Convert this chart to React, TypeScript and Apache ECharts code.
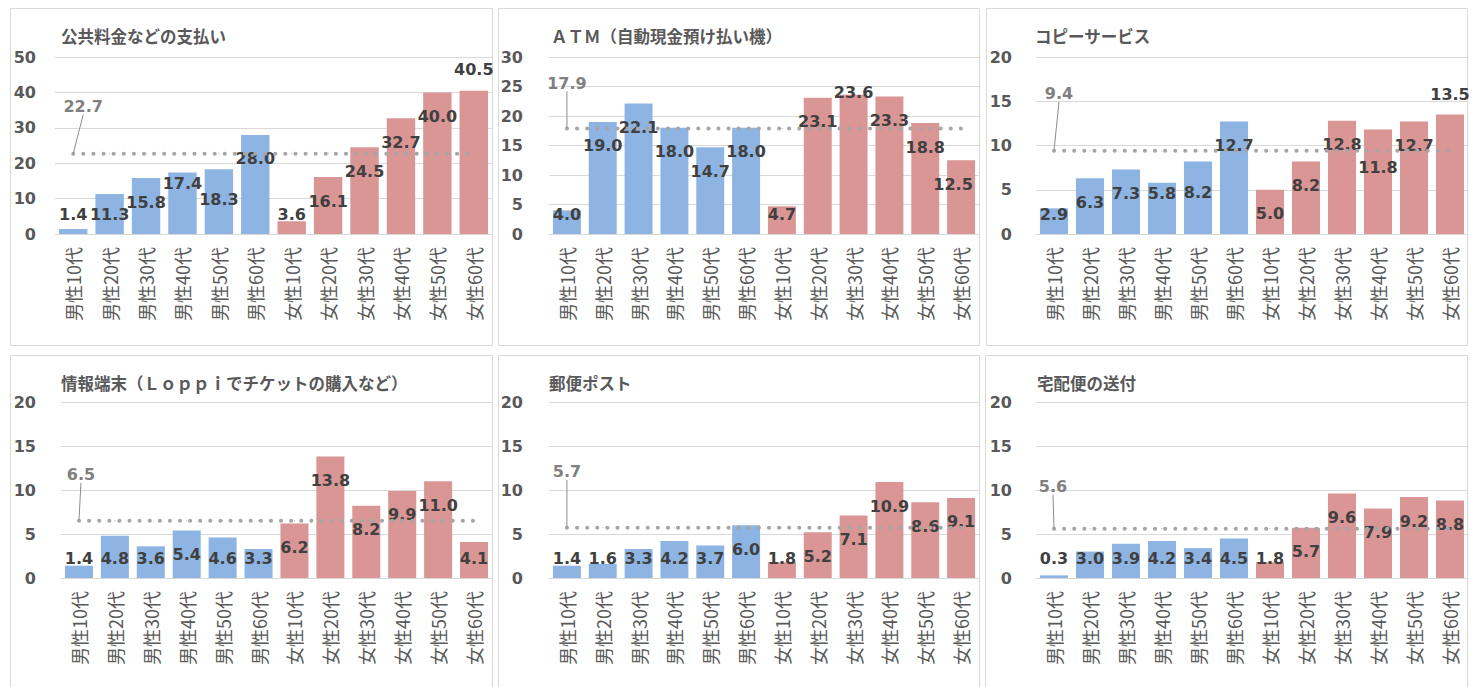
import React, { useEffect, useRef } from "react";
import * as echarts from "echarts";

// ---------- data ----------
const categories = [
  "男性10代", "男性20代", "男性30代", "男性40代", "男性50代", "男性60代",
  "女性10代", "女性20代", "女性30代", "女性40代", "女性50代", "女性60代",
];

const chartTitles = [
  "公共料金などの支払い",
  "ＡＴＭ（自動現金預け払い機）",
  "コピーサービス",
  "情報端末（Ｌｏｐｐｉでチケットの購入など）",
  "郵便ポスト",
  "宅配便の送付",
];

const utilityPayment = [1.4, 11.3, 15.8, 17.4, 18.3, 28.0, 3.6, 16.1, 24.5, 32.7, 40.0, 40.5];
const atm = [4.0, 19.0, 22.1, 18.0, 14.7, 18.0, 4.7, 23.1, 23.6, 23.3, 18.8, 12.5];
const copyService = [2.9, 6.3, 7.3, 5.8, 8.2, 12.7, 5.0, 8.2, 12.8, 11.8, 12.7, 13.5];
const infoTerminal = [1.4, 4.8, 3.6, 5.4, 4.6, 3.3, 6.2, 13.8, 8.2, 9.9, 11.0, 4.1];
const postBox = [1.4, 1.6, 3.3, 4.2, 3.7, 6.0, 1.8, 5.2, 7.1, 10.9, 8.6, 9.1];
const parcelDelivery = [0.3, 3.0, 3.9, 4.2, 3.4, 4.5, 1.8, 5.7, 9.6, 7.9, 9.2, 8.8];

const seriesValues = [utilityPayment, atm, copyService, infoTerminal, postBox, parcelDelivery];
const averages = [22.7, 17.9, 9.4, 6.5, 5.7, 5.6];
const axisMax = [50, 30, 20, 20, 20, 20];
const axisInterval = [10, 5, 5, 5, 5, 5];

// ---------- layout / style ----------
const layouts = [
  { panel: [10, 8, 482, 337], grid: [55, 57, 437, 177], yMargin: 19, titlePos: [61, 27], avgLabel: [10, -47] },
  { panel: [498, 8, 481, 337], grid: [549, 57, 430, 177], yMargin: 26, titlePos: [551, 27], avgLabel: [0, -45] },
  { panel: [986, 8, 481, 337], grid: [1036, 57, 432, 177], yMargin: 24, titlePos: [1035, 27], avgLabel: [5, -57] },
  { panel: [10, 355, 482, 345], grid: [61, 402, 431, 176], yMargin: 25, titlePos: [61, 374], avgLabel: [2, -46] },
  { panel: [498, 355, 481, 345], grid: [549, 402, 430, 176], yMargin: 26, titlePos: [549, 374], avgLabel: [0, -56] },
  { panel: [985, 355, 482, 345], grid: [1036, 402, 432, 176], yMargin: 24, titlePos: [1037, 374], avgLabel: [-1, -42] },
];

// manual data-label nudges: [dataIndex, dx, dy]
const labelNudges: number[][][] = [
  [[3, 0, -13], [4, 0, 6], [11, 0, -45]],
  [[8, 0, -26], [11, -8, 0]],
  [[3, 0, -13], [4, 0, 7], [9, 0, 14], [11, 0, -44]],
  [],
  [],
  [],
];

const BLUE = "#8DB4E2";
const PINK = "#DA9694";
const GRID_COLOR = "#D9D9D9";
const TEXT_COLOR = "#595959";
const NUM_FONT = "DejaVu Sans, Noto Sans CJK JP, sans-serif";
const CJK_FONT = "Noto Sans CJK JP, sans-serif";

function buildOption() {
  const bars = seriesValues.map((values, i) => ({
    type: "bar",
    xAxisIndex: i,
    yAxisIndex: i,
    data: values,
    barCategoryGap: "22%",
    z: 2,
    silent: true,
    itemStyle: {
      color: (p: any) => (String(p.name).startsWith("男性") ? BLUE : PINK),
    },
    label: {
      show: true,
      position: "inside",
      formatter: (p: any) => Number(p.value).toFixed(1),
      fontFamily: NUM_FONT,
      fontWeight: "bold",
      fontSize: 16,
      color: "#404040",
    },
    labelLayout: (p: any) => {
      const r = p.rect;
      const top = r.y;
      const bottom = r.y + r.height;
      let cy = Math.min(top + 24, bottom - 20);
      let cx = r.x + r.width / 2;
      const nudge = labelNudges[i].find((n) => n[0] === p.dataIndex);
      if (nudge) {
        cx += nudge[1];
        cy += nudge[2];
      }
      return { x: cx, y: cy, align: "center", verticalAlign: "middle" };
    },
  }));

  const lines = averages.map((avg, i) => ({
    type: "line",
    xAxisIndex: i,
    yAxisIndex: i,
    z: 2,
    silent: true,
    data: categories.map((_, k) => (k === 0 ? { value: avg, label: { show: true } } : avg)),
    symbol: "circle",
    symbolSize: 1,
    showSymbol: true,
    itemStyle: { color: "#A6A6A6" },
    lineStyle: { color: "#A6A6A6", width: 4, type: [0.1, 10], cap: "round" },
    label: {
      show: false,
      formatter: (p: any) => Number(p.value).toFixed(1),
      fontFamily: NUM_FONT,
      fontWeight: "bold",
      fontSize: 16,
      color: "#808080",
    },
    labelLine: { show: true, lineStyle: { color: "#8C8C8C", width: 1 } },
    labelLayout: (p: any) => {
      if (p.dataIndex !== 0) return {};
      const r = p.rect;
      const [dx, dy] = layouts[i].avgLabel;
      return {
        x: r.x + r.width / 2 + dx,
        y: r.y + r.height / 2 + dy,
        align: "center",
        verticalAlign: "middle",
      };
    },
  }));

  return {
    animation: false,
    backgroundColor: "#FFFFFF",
    title: layouts.map((l, i) => ({
      text: chartTitles[i],
      left: l.titlePos[0],
      top: l.titlePos[1],
      padding: 0,
      textStyle: {
        fontFamily: CJK_FONT,
        fontSize: 16.5,
        fontWeight: "bold",
        color: TEXT_COLOR,
        lineHeight: 17,
      },
    })),
    graphic: layouts.map((l) => ({
      type: "rect",
      silent: true,
      z: -10,
      shape: { x: l.panel[0] + 0.5, y: l.panel[1] + 0.5, width: l.panel[2], height: l.panel[3] },
      style: { fill: "none", stroke: GRID_COLOR, lineWidth: 1 },
    })),
    grid: layouts.map((l) => ({
      left: l.grid[0],
      top: l.grid[1],
      width: l.grid[2],
      height: l.grid[3],
      containLabel: false,
    })),
    xAxis: layouts.map((_, i) => ({
      type: "category",
      gridIndex: i,
      data: categories,
      axisTick: { show: false },
      axisLine: { show: true, lineStyle: { color: GRID_COLOR, width: 1 } },
      axisLabel: {
        rotate: 90,
        interval: 0,
        margin: 13,
        fontFamily: CJK_FONT,
        fontSize: 18,
        color: TEXT_COLOR,
      },
    })),
    yAxis: layouts.map((l, i) => ({
      type: "value",
      gridIndex: i,
      min: 0,
      max: axisMax[i],
      interval: axisInterval[i],
      axisLine: { show: false },
      axisTick: { show: false },
      splitLine: { lineStyle: { color: GRID_COLOR, width: 1 } },
      axisLabel: {
        margin: l.yMargin,
        fontFamily: NUM_FONT,
        fontWeight: "bold",
        fontSize: 16,
        color: TEXT_COLOR,
      },
    })),
    series: [...bars, ...lines],
  };
}

export default function App() {
  const ref = useRef<HTMLDivElement>(null);
  useEffect(() => {
    if (!ref.current) return;
    const chart = echarts.init(ref.current, null, { renderer: "svg" });
    chart.setOption(buildOption() as any);
    return () => chart.dispose();
  }, []);
  return (
    <div
      ref={ref}
      style={{ position: "fixed", left: 0, top: 0, width: 1475, height: 687, background: "#fff" }}
    />
  );
}
